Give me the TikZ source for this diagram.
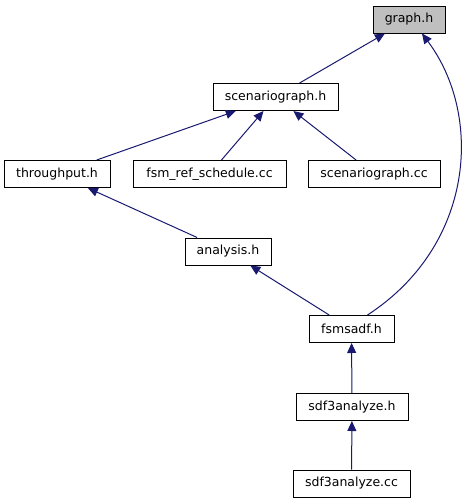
\documentclass[tikz,border=0pt]{standalone}
\usepackage{fontspec}
\setmainfont{DejaVu Sans}
\usepackage{xcolor}
\definecolor{dxblue}{RGB}{25,25,112}
\definecolor{dxgray}{RGB}{191,191,191}
\usetikzlibrary{arrows.meta}

\begin{document}
\begin{tikzpicture}[
  x=1pt, y=-1pt,
  every node/.style={font=\fontsize{12.5}{15}\selectfont},
  filebox/.style={draw=black,line width=1pt,fill=white,minimum height=27pt,inner sep=0pt},
  incl/.style={draw=dxblue,line width=1pt,-{Triangle[length=10pt,width=9pt]}},
]
  \useasboundingbox (0,0) rectangle (463,504);

  % Top header
  \node[filebox,fill=dxgray,minimum width=72pt] (graphh) at (409,19.5) {graph.h};

  % Second level
  \node[filebox,minimum width=125pt] (scengraphh) at (275.5,97) {scenariograph.h};

  % Third level
  \node[filebox,minimum width=106pt] (throughputh) at (57,174) {throughput.h};
  \node[filebox,minimum width=153pt] (fsmrefcc) at (209.5,174) {fsm\_ref\_schedule.cc};
  \node[filebox,minimum width=132pt] (scengraphcc) at (374,174) {scenariograph.cc};

  % Lower chain
  \node[filebox,minimum width=86pt] (analysish) at (228,251.5) {analysis.h};
  \node[filebox,minimum width=85pt] (fsmsadfh) at (351.5,329) {fsmsadf.h};
  \node[filebox,minimum width=112pt] (sdfanah) at (352,407) {sdf3analyze.h};
  \node[filebox,minimum width=117pt] (sdfanacc) at (351.5,483.5) {sdf3analyze.cc};

  % Include edges
  \draw[incl] (scengraphh) -- (graphh);
  \draw[incl] (throughputh) -- (scengraphh);
  \draw[incl] (fsmrefcc) -- (scengraphh);
  \draw[incl] (scengraphcc) -- (scengraphh);
  \draw[incl] (analysish) -- (throughputh);
  \draw[incl] (fsmsadfh) -- (analysish);
  \draw[incl] ([xshift=16pt]fsmsadfh.north) .. controls (475,245) and (483,115) .. ([xshift=13pt]graphh.south);
  \draw[incl] (sdfanah) -- (fsmsadfh);
  \draw[incl] (sdfanacc) -- (sdfanah);
\end{tikzpicture}
\end{document}
